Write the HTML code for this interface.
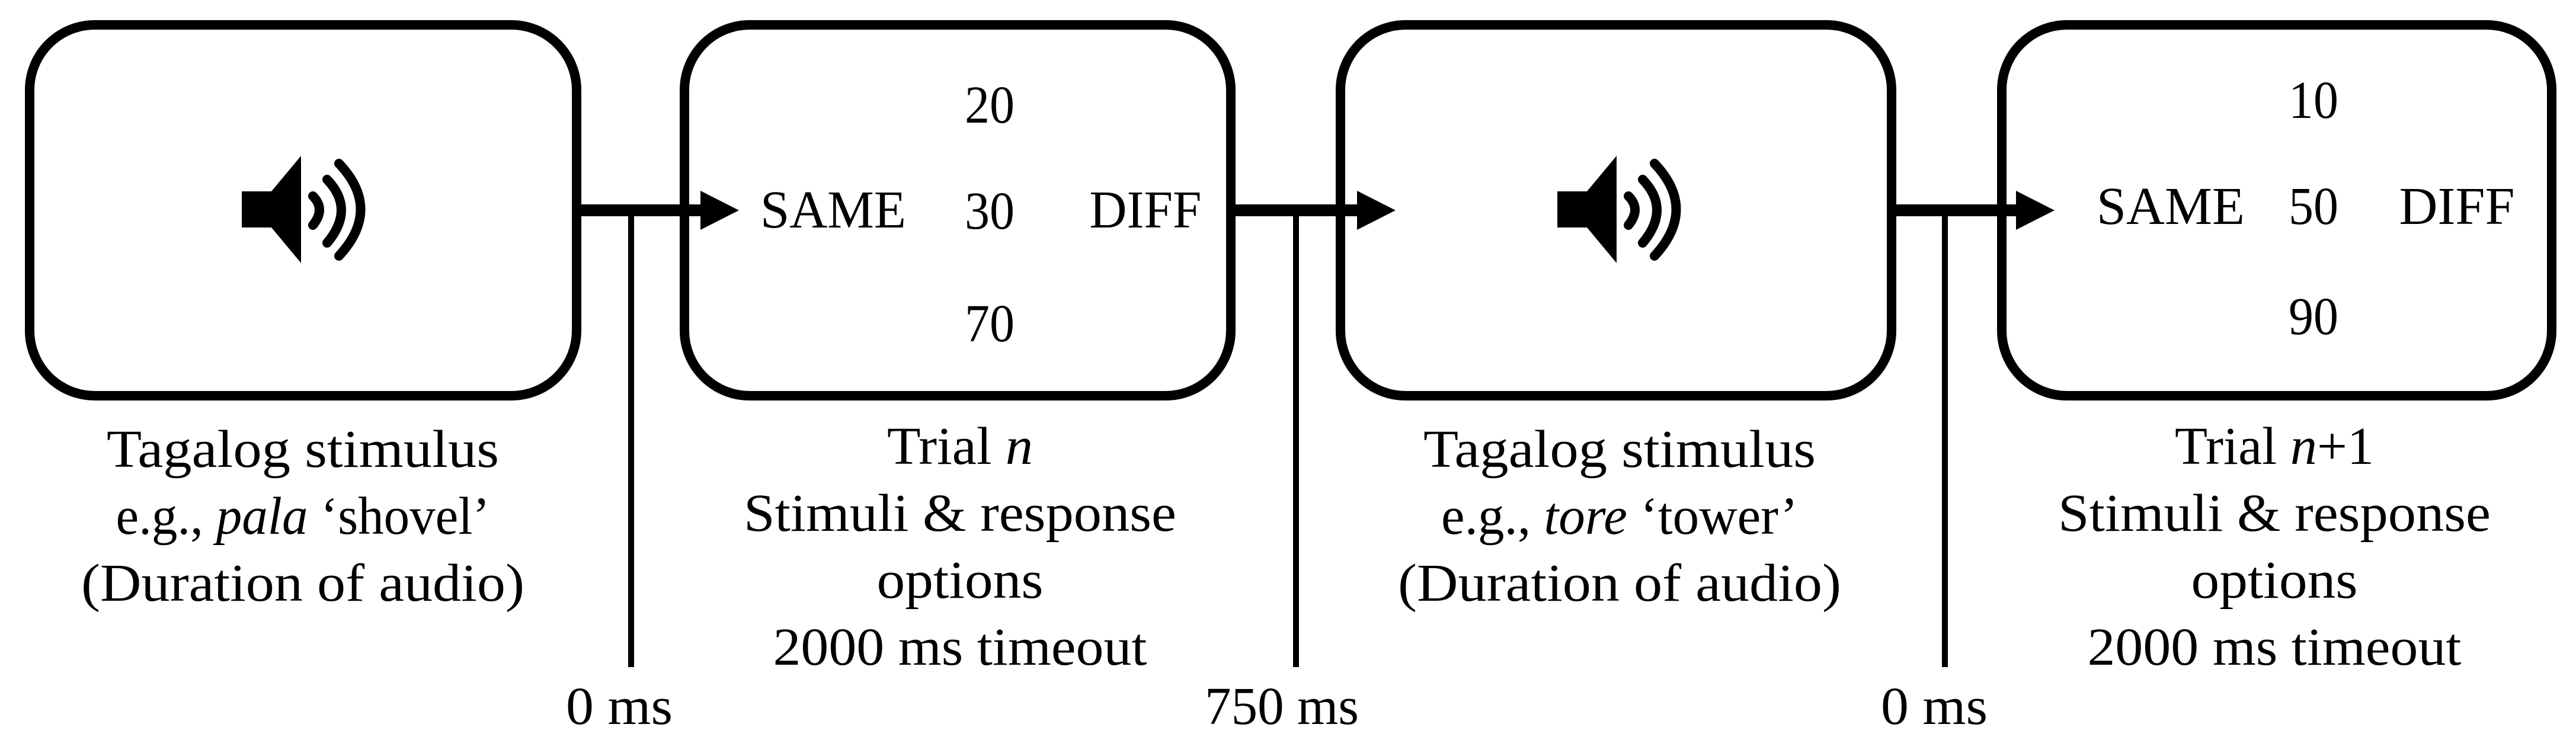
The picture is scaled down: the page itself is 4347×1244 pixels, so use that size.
<!DOCTYPE html>
<html><head><meta charset="utf-8"><style>
html,body{margin:0;padding:0;background:#fff;}
svg{display:block;}
</style></head><body>
<svg width="4347" height="1244" viewBox="0 0 4347 1244" xmlns="http://www.w3.org/2000/svg" font-family="'Liberation Serif', 'DejaVu Serif', serif" font-size="90">
<g fill="none" stroke="#000" stroke-width="16">
<rect x="50" y="42" width="923" height="626" rx="110"/>
<rect x="1155" y="42" width="922" height="626" rx="110"/>
<rect x="2262" y="42" width="930" height="626" rx="110"/>
<rect x="3378" y="42" width="928" height="626" rx="110"/>
</g>
<g stroke="#000" stroke-width="20">
<line x1="973" y1="355" x2="1190" y2="355"/>
<line x1="2077" y1="355" x2="2300" y2="355"/>
<line x1="3192" y1="355" x2="3410" y2="355"/>
</g>
<g fill="#000">
<polygon points="1182,322 1247,355 1182,388"/>
<polygon points="2290,322 2355,355 2290,388"/>
<polygon points="3402,322 3467,355 3402,388"/>
</g>
<g stroke="#000" stroke-width="10">
<line x1="1065" y1="355" x2="1065" y2="1126"/>
<line x1="2187" y1="355" x2="2187" y2="1126"/>
<line x1="3282" y1="355" x2="3282" y2="1126"/>
</g>
<g id="spk">
<polygon points="408,323 458,323 508,263 508,444 458,384 408,384" fill="#000"/>
<g fill="none" stroke="#000" stroke-width="16" stroke-linecap="round">
<path d="M528,331 Q550,353 528,380"/>
<path d="M552,303 Q600,353 552,410"/>
<path d="M572,276 Q645,353 572,432"/>
</g>
</g>
<use href="#spk" transform="translate(2220,0)"/>
<g text-anchor="middle" fill="#000" font-family="'Liberation Serif', 'DejaVu Serif', serif" lengthAdjust="spacingAndGlyphs">
<text x="1670" y="207" textLength="84" lengthAdjust="spacingAndGlyphs">20</text>
<text x="1670" y="386" textLength="84" lengthAdjust="spacingAndGlyphs">30</text>
<text x="1670" y="576" textLength="84" lengthAdjust="spacingAndGlyphs">70</text>
<text x="1406" y="384" textLength="246" lengthAdjust="spacingAndGlyphs">SAME</text>
<text x="1933" y="384" textLength="189" lengthAdjust="spacingAndGlyphs">DIFF</text>
<text x="3904" y="199" textLength="84" lengthAdjust="spacingAndGlyphs">10</text>
<text x="3904" y="378" textLength="84" lengthAdjust="spacingAndGlyphs">50</text>
<text x="3904" y="564" textLength="84" lengthAdjust="spacingAndGlyphs">90</text>
<text x="3663" y="378" textLength="250" lengthAdjust="spacingAndGlyphs">SAME</text>
<text x="4146" y="378" textLength="195" lengthAdjust="spacingAndGlyphs">DIFF</text>

<text x="511" y="788" textLength="662" lengthAdjust="spacingAndGlyphs">Tagalog stimulus</text>
<text x="511" y="901" textLength="631" lengthAdjust="spacingAndGlyphs">e.g., <tspan font-style="italic">pala</tspan> ‘shovel’</text>
<text x="511" y="1014" textLength="748" lengthAdjust="spacingAndGlyphs">(Duration of audio)</text>

<text x="1620" y="783" textLength="246" lengthAdjust="spacingAndGlyphs">Trial <tspan font-style="italic">n</tspan></text>
<text x="1620" y="896" textLength="730" lengthAdjust="spacingAndGlyphs">Stimuli &amp; response</text>
<text x="1620" y="1009" textLength="281" lengthAdjust="spacingAndGlyphs">options</text>
<text x="1620" y="1122" textLength="631" lengthAdjust="spacingAndGlyphs">2000 ms timeout</text>

<text x="2733" y="788" textLength="662" lengthAdjust="spacingAndGlyphs">Tagalog stimulus</text>
<text x="2733" y="901" textLength="602" lengthAdjust="spacingAndGlyphs">e.g., <tspan font-style="italic">tore</tspan> ‘tower’</text>
<text x="2733" y="1014" textLength="748" lengthAdjust="spacingAndGlyphs">(Duration of audio)</text>

<text x="3838" y="783" textLength="336" lengthAdjust="spacingAndGlyphs">Trial <tspan font-style="italic">n</tspan>+1</text>
<text x="3838" y="896" textLength="730" lengthAdjust="spacingAndGlyphs">Stimuli &amp; response</text>
<text x="3838" y="1009" textLength="281" lengthAdjust="spacingAndGlyphs">options</text>
<text x="3838" y="1122" textLength="631" lengthAdjust="spacingAndGlyphs">2000 ms timeout</text>

<text x="1045" y="1222" textLength="180" lengthAdjust="spacingAndGlyphs">0 ms</text>
<text x="2163" y="1222" textLength="260" lengthAdjust="spacingAndGlyphs">750 ms</text>
<text x="3264" y="1222" textLength="180" lengthAdjust="spacingAndGlyphs">0 ms</text>
</g>
</svg>
</body></html>
